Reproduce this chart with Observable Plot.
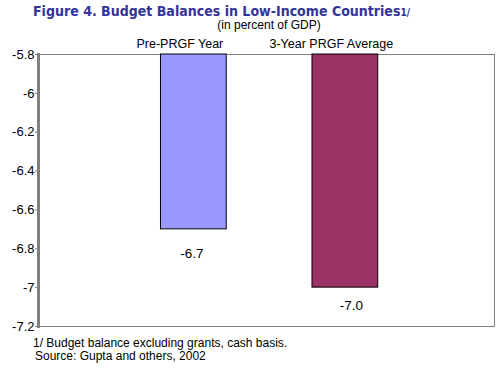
<!DOCTYPE html>
<html>
<head>
<meta charset="utf-8">
<script src="https://cdn.jsdelivr.net/npm/d3@7"></script>
<script src="https://cdn.jsdelivr.net/npm/@observablehq/plot@0.6"></script>
<style>
  body { margin: 0; background: #fff; }
  #wrap { position: relative; width: 499px; height: 375px; background: #fff; overflow: hidden; }
  #wrap svg { position: absolute; left: 0; top: 0; }
  .t { position: absolute; white-space: nowrap; font-family: "Liberation Sans", Arial, sans-serif; font-size: 12px; line-height: 12px; color: #000; }
  #title { left: 33px; top: 4px; font-family: "DejaVu Sans", Verdana, sans-serif; font-weight: bold; font-size: 14px; line-height: 14px; color: #333399; transform-origin: 0 0; }
  #title .sup { font-size: 10px; font-weight: bold; }
  #sub { left: 169px; width: 200px; text-align: center; top: 19px; }
  #fn1 { left: 33px; top: 337px; }
  #fn2 { left: 35px; top: 350px; }
</style>
</head>
<body>
<div id="wrap">
  <div id="title" class="t">Figure 4. Budget Balances in Low-Income Countries<span class="sup">1/</span></div>
  <div id="sub" class="t">(in percent of GDP)</div>
  <div id="fn1" class="t">1/ Budget balance excluding grants, cash basis.</div>
  <div id="fn2" class="t">Source: Gupta and others, 2002</div>
</div>
<script>
const categories = ["Pre-PRGF Year", "3-Year PRGF Average"];
const values = [-6.7, -7.0];
const colors = ["#9999FF", "#993366"];
const yTicks = [-5.8, -6, -6.2, -6.4, -6.6, -6.8, -7, -7.2];
const yTop = -5.8;
const yBottom = -7.2;

const data = categories.map((c, i) => ({cat: c, value: values[i]}));

const chart = Plot.plot({
  width: 499,
  height: 375,
  marginTop: 54,
  marginLeft: 38,
  marginRight: 5,
  marginBottom: 49,
  style: {fontFamily: "'Liberation Sans', Arial, sans-serif", fontSize: "13px", background: "transparent", color: "#000"},
  x: {type: "band", domain: categories, paddingInner: 0.566, paddingOuter: 0.788, align: 0.513, round: false, axis: null},
  y: {domain: [yBottom, yTop], axis: null},
  color: {domain: categories, range: colors},
  marks: [
    Plot.frame({stroke: "#808080", strokeWidth: 1}),
    Plot.barY(data, {x: "cat", y1: () => yTop, y2: "value", fill: "cat", stroke: "#000", strokeWidth: 1}),
    Plot.frame({anchor: "left", stroke: "#808080", strokeWidth: 3}),
    Plot.axisY({ticks: yTicks, tickSize: 3, tickPadding: 1, tickFormat: d => String(d), stroke: "#808080", fill: "#000", fontSize: 13, label: null}),
    Plot.text(data, {x: "cat", y: () => yTop, text: "cat", dx: -14, dy: -11, fontSize: 12.5, fill: "#000"}),
    Plot.text(data.slice(0, 1), {x: "cat", y: "value", text: d => d.value.toFixed(1), dx: -2, dy: 24, fontSize: 13.5, fill: "#000"}),
    Plot.text(data.slice(1, 2), {x: "cat", y: "value", text: d => d.value.toFixed(1), dx: 6, dy: 18, fontSize: 13.5, fill: "#000"})
  ]
});

const wrap = document.getElementById("wrap");
wrap.insertBefore(chart, wrap.firstChild);

// fit title to reference width
const title = document.getElementById("title");
const w = title.getBoundingClientRect().width;
title.style.transform = `scaleX(${377 / w})`;
</script>
</body>
</html>
